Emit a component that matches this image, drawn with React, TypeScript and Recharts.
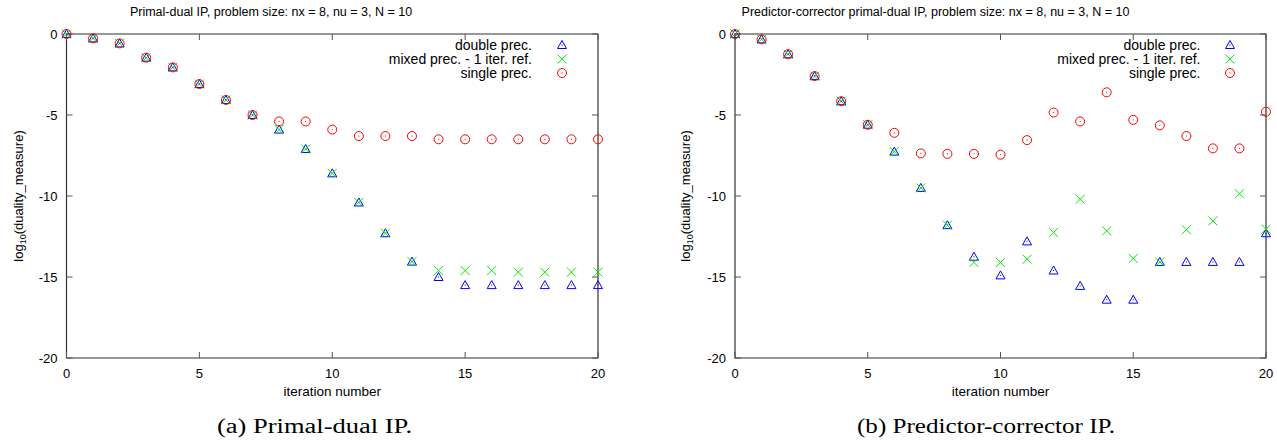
import React from 'react';
import { ScatterChart, Scatter, XAxis, YAxis, ReferenceArea, Label } from 'recharts';

const iterations = [0, 1, 2, 3, 4, 5, 6, 7, 8, 9, 10, 11, 12, 13, 14, 15, 16, 17, 18, 19, 20];
const xTicks = [0, 5, 10, 15, 20];
const yTicks = [-20, -15, -10, -5, 0];

// (a) primal-dual IP, log10 of the duality measure
const pdDouble = [0, -0.27, -0.58, -1.46, -2.06, -3.09, -4.07, -5.0, -5.9, -7.1, -8.6, -10.4, -12.3, -14.05, -15.0, -15.5, -15.5, -15.5, -15.5, -15.5, -15.5];
const pdMixed = [0, -0.27, -0.58, -1.46, -2.06, -3.09, -4.07, -5.0, -5.9, -7.1, -8.6, -10.4, -12.3, -14.05, -14.6, -14.6, -14.6, -14.7, -14.7, -14.7, -14.7];
const pdSingle = [0, -0.27, -0.58, -1.46, -2.06, -3.09, -4.07, -5.0, -5.4, -5.4, -5.9, -6.3, -6.3, -6.3, -6.5, -6.5, -6.5, -6.5, -6.5, -6.5, -6.5];

// (b) predictor-corrector IP
const pcDouble = [0, -0.33, -1.25, -2.6, -4.15, -5.6, -7.26, -9.5, -11.8, -13.75, -14.9, -12.8, -14.6, -15.55, -16.4, -16.4, -14.07, -14.07, -14.07, -14.07, -12.3];
const pcMixed = [0, -0.33, -1.25, -2.6, -4.15, -5.6, -7.26, -9.5, -11.8, -14.1, -14.1, -13.9, -12.25, -10.2, -12.15, -13.85, -14.07, -12.08, -11.54, -9.86, -12.05];
const pcSingle = [0, -0.33, -1.25, -2.6, -4.15, -5.6, -6.1, -7.37, -7.4, -7.4, -7.45, -6.55, -4.85, -5.4, -3.6, -5.3, -5.64, -6.3, -7.06, -7.06, -4.8];

const legendLabels = ['double prec.', 'mixed prec. - 1 iter. ref.', 'single prec.'];

const SANS = '"Liberation Sans", Arial, Helvetica, sans-serif';
const SERIF = '"Liberation Serif", "DejaVu Serif", serif';
const BLUE = '#0000ff';
const GREEN = '#00ee00';
const RED = '#ff0000';
const TICK = '#555';

const toPoints = (ys: number[]) => iterations.map((x, i) => ({ x, y: ys[i] }));

const Triangle = ({ cx, cy }: any) => (
  <g>
    <polygon
      points={`${cx},${cy - 4.5} ${cx - 4.5},${cy + 3.5} ${cx + 4.5},${cy + 3.5}`}
      fill="none"
      stroke={BLUE}
      strokeWidth={1}
    />
    <rect x={cx - 0.5} y={cy - 0.5} width={1} height={1} fill={BLUE} />
  </g>
);

const Cross = ({ cx, cy }: any) => (
  <g stroke={GREEN} strokeWidth={1}>
    <line x1={cx - 4.5} y1={cy - 4.5} x2={cx + 4.5} y2={cy + 4.5} />
    <line x1={cx - 4.5} y1={cy + 4.5} x2={cx + 4.5} y2={cy - 4.5} />
  </g>
);

const Ring = ({ cx, cy }: any) => (
  <g>
    <circle cx={cx} cy={cy} r={4.5} fill="none" stroke={RED} strokeWidth={1} />
    <rect x={cx - 0.5} y={cy - 0.5} width={1} height={1} fill={RED} />
  </g>
);

const PLOT_TOP = 34;
const PLOT_BOTTOM = 358;

interface PanelProps {
  left: number;
  width: number;
  plotLeft: number;
  plotRight: number;
  yLabelX: number;
  double: number[];
  mixed: number[];
  single: number[];
}

const Panel = ({ left, width, plotLeft, plotRight, yLabelX, double, mixed, single }: PanelProps) => {
  const XTick = ({ x, y, payload }: any) => (
    <g>
      <line x1={x} y1={PLOT_BOTTOM} x2={x} y2={PLOT_BOTTOM - 6} stroke={TICK} />
      <line x1={x} y1={PLOT_TOP} x2={x} y2={PLOT_TOP + 6} stroke={TICK} />
      <text x={x} y={y + 19.5} textAnchor="middle" fontSize={13} fontFamily={SANS} fill="#000">
        {payload.value}
      </text>
    </g>
  );

  const YTick = ({ x, y, payload }: any) => (
    <g>
      <line x1={plotLeft} y1={y} x2={plotLeft + 6} y2={y} stroke={TICK} />
      <line x1={plotRight} y1={y} x2={plotRight - 6} y2={y} stroke={TICK} />
      <text x={plotLeft - 9} y={y + 4.5} textAnchor="end" fontSize={13} fontFamily={SANS} fill="#000">
        {payload.value}
      </text>
    </g>
  );

  const YLabel = () => {
    const cy = (PLOT_TOP + PLOT_BOTTOM) / 2;
    return (
      <text
        x={yLabelX}
        y={cy}
        transform={`rotate(-90, ${yLabelX}, ${cy})`}
        textAnchor="middle"
        fontSize={13}
        fontFamily={SANS}
        fill="#000"
      >
        log
        <tspan fontSize={9} dy={3}>10</tspan>
        <tspan dy={-3}>(duality_measure)</tspan>
      </text>
    );
  };

  const XLabel = () => (
    <text
      x={(plotLeft + plotRight) / 2}
      y={PLOT_BOTTOM + 38}
      textAnchor="middle"
      fontSize={13.5}
      fontFamily={SANS}
      fill="#000"
    >
      iteration number
    </text>
  );

  return (
    <div style={{ position: 'absolute', left, top: 0 }}>
      <ScatterChart
        width={width}
        height={441}
        margin={{ top: PLOT_TOP, right: width - plotRight, bottom: 0, left: 0 }}
      >
        <XAxis
          type="number"
          dataKey="x"
          domain={[0, 20]}
          ticks={xTicks}
          height={441 - PLOT_BOTTOM}
          axisLine={false}
          tickLine={false}
          tickSize={0}
          tickMargin={0}
          tick={<XTick />}
          interval={0}
        >
          <Label content={<XLabel />} />
        </XAxis>
        <YAxis
          type="number"
          dataKey="y"
          domain={[-20, 0]}
          ticks={yTicks}
          width={plotLeft}
          axisLine={false}
          tickLine={false}
          tickSize={0}
          tickMargin={0}
          tick={<YTick />}
          interval={0}
        >
          <Label content={<YLabel />} />
        </YAxis>
        <ReferenceArea x1={0} x2={20} y1={-20} y2={0} fill="none" stroke="#333" strokeWidth={1.2} />
        <Scatter data={toPoints(double)} shape={<Triangle />} isAnimationActive={false} />
        <Scatter data={toPoints(mixed)} shape={<Cross />} isAnimationActive={false} />
        <Scatter data={toPoints(single)} shape={<Ring />} isAnimationActive={false} />
      </ScatterChart>
    </div>
  );
};

const LegendBlock = ({ textRight, markX }: { textRight: number; markX: number }) => {
  const marks = [Triangle, Cross, Ring];
  return (
    <g>
      {legendLabels.map((label, i) => {
        const cy = 45 + i * 14;
        const Mark = marks[i];
        return (
          <g key={label}>
            <text x={textRight} y={cy + 5} textAnchor="end" fontSize={14} fontFamily={SANS} fill="#000">
              {label}
            </text>
            <Mark cx={markX} cy={cy} />
          </g>
        );
      })}
    </g>
  );
};

export default function App() {
  return (
    <div style={{ position: 'absolute', left: 0, top: 0, width: 1277, height: 441, background: '#fff' }}>
      <Panel
        left={0}
        width={640}
        plotLeft={66.5}
        plotRight={598}
        yLabelX={23}
        double={pdDouble}
        mixed={pdMixed}
        single={pdSingle}
      />
      <Panel
        left={660}
        width={617}
        plotLeft={75}
        plotRight={606}
        yLabelX={30}
        double={pcDouble}
        mixed={pcMixed}
        single={pcSingle}
      />
      <svg
        width={1277}
        height={441}
        style={{ position: 'absolute', left: 0, top: 0, pointerEvents: 'none' }}
      >
        <text x={271} y={16} textAnchor="middle" fontSize={12.5} fontFamily={SANS} fill="#000">
          Primal-dual IP, problem size: nx = 8, nu = 3, N = 10
        </text>
        <text x={935.5} y={16} textAnchor="middle" fontSize={12.5} fontFamily={SANS} fill="#000">
          Predictor-corrector primal-dual IP, problem size: nx = 8, nu = 3, N = 10
        </text>
        <LegendBlock textRight={532} markX={562} />
        <LegendBlock textRight={1200.5} markX={1230} />
        <text
          x={314.5}
          y={433}
          textAnchor="middle"
          fontSize={20}
          fontFamily={SERIF}
          textLength={195}
          lengthAdjust="spacingAndGlyphs"
          fill="#000"
        >
          (a) Primal-dual IP.
        </text>
        <text
          x={986}
          y={433}
          textAnchor="middle"
          fontSize={20}
          fontFamily={SERIF}
          textLength={258}
          lengthAdjust="spacingAndGlyphs"
          fill="#000"
        >
          (b) Predictor-corrector IP.
        </text>
      </svg>
    </div>
  );
}
